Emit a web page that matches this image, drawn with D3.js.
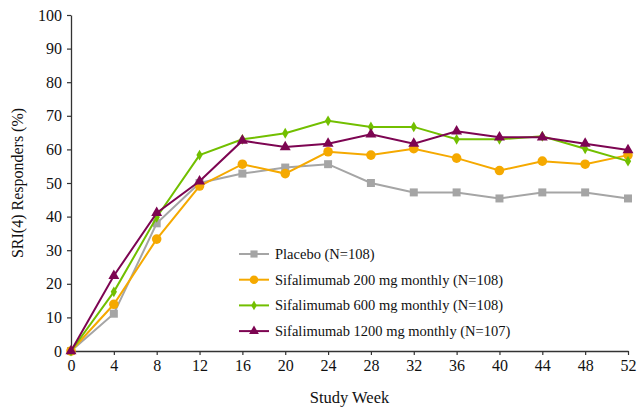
<!DOCTYPE html>
<html>
<head>
<meta charset="utf-8">
<script src="https://cdn.jsdelivr.net/npm/d3@7"></script>
<style>
  html, body { margin: 0; padding: 0; background: #fff; }
  svg text { font-family: 'Liberation Serif', 'Times New Roman', Tinos, 'DejaVu Serif', serif; }
</style>
</head>
<body>
<svg id="chart" width="637" height="410"></svg>
<script>
// ---------- data ----------
const weeks = [0, 4, 8, 12, 16, 20, 24, 28, 32, 36, 40, 44, 48, 52];
const yTicks = [0, 10, 20, 30, 40, 50, 60, 70, 80, 90, 100];

const placebo  = [0, 11.1, 38.0, 50.0, 52.8, 54.6, 55.6, 50.0, 47.2, 47.2, 45.4, 47.2, 47.2, 45.4];
const dose200  = [0, 13.9, 33.3, 49.1, 55.6, 52.8, 59.3, 58.3, 60.2, 57.4, 53.7, 56.5, 55.6, 58.3];
const dose600  = [0, 17.6, 39.8, 58.3, 63.0, 64.8, 68.5, 66.7, 66.7, 63.0, 63.0, 63.9, 60.2, 56.5];
const dose1200 = [0, 22.4, 41.1, 50.5, 62.6, 60.7, 61.7, 64.5, 61.7, 65.4, 63.6, 63.6, 61.7, 59.8];

const seriesNames = [
  'Placebo (N=108)',
  'Sifalimumab 200 mg monthly (N=108)',
  'Sifalimumab 600 mg monthly (N=108)',
  'Sifalimumab 1200 mg monthly (N=107)'
];

// ---------- styling ----------
const series = [
  { name: seriesNames[0], values: placebo,  color: '#a5a5a5', symbol: d3.symbolSquare,   size: 64 },
  { name: seriesNames[1], values: dose200,  color: '#f5a900', symbol: d3.symbolCircle,   size: 72 },
  { name: seriesNames[2], values: dose600,  color: '#72bf00', symbol: d3.symbolDiamond,  size: 34 },
  { name: seriesNames[3], values: dose1200, color: '#7d0552', symbol: d3.symbolTriangle, size: 52 }
];

const svg = d3.select('#chart');
const m = { l: 71, r: 9, t: 15, b: 59 };
const W = 637, H = 410;

const x = d3.scaleLinear().domain([0, 52]).range([m.l, W - m.r]);
const y = d3.scaleLinear().domain([0, 100]).range([H - m.b, m.t]);

// axes
const xAxis = svg.append('g').attr('transform', `translate(0,${y(0)})`)
  .call(d3.axisBottom(x).tickValues(weeks).tickSize(4).tickPadding(5).tickSizeOuter(0));
const yAxis = svg.append('g').attr('transform', `translate(${m.l},0)`)
  .call(d3.axisLeft(y).tickValues(yTicks).tickSize(4).tickPadding(5).tickSizeOuter(0));

[xAxis, yAxis].forEach(a => {
  a.attr('font-family', null);
  a.select('.domain').attr('stroke', '#333').attr('stroke-width', 1.3);
  a.selectAll('.tick line').attr('stroke', '#333').attr('stroke-width', 1.2);
  a.selectAll('.tick text').attr('font-size', 16).attr('fill', '#111');
});

// axis titles
svg.append('text').attr('x', x(26)).attr('y', 403).attr('text-anchor', 'middle')
  .attr('font-size', 16.5).attr('fill', '#111').text('Study Week');
svg.append('text').attr('transform', `translate(23,${y(50)}) rotate(-90)`).attr('text-anchor', 'middle')
  .attr('font-size', 16).attr('fill', '#111').text('SRI(4) Responders (%)');

// lines + markers
const line = d3.line().x((d, i) => x(weeks[i])).y(d => y(d));
series.forEach(s => {
  svg.append('path').datum(s.values).attr('d', line)
    .attr('fill', 'none').attr('stroke', s.color).attr('stroke-width', 2);
  svg.append('g').selectAll('path').data(s.values).join('path')
    .attr('transform', (d, i) => `translate(${x(weeks[i])},${y(d)})`)
    .attr('d', d3.symbol().type(s.symbol).size(s.size))
    .attr('fill', s.color);
});

// legend
const lg = svg.append('g').attr('transform', 'translate(239,254)');
series.forEach((s, i) => {
  const row = lg.append('g').attr('transform', `translate(0,${i * 25.7})`);
  row.append('line').attr('x1', 0).attr('x2', 30).attr('stroke', s.color).attr('stroke-width', 2);
  row.append('path').attr('transform', 'translate(15,0)')
    .attr('d', d3.symbol().type(s.symbol).size(s.size * 0.8)).attr('fill', s.color);
  row.append('text').attr('x', 36).attr('y', 5).attr('font-size', 14.5).attr('fill', '#111').text(s.name);
});
</script>
</body>
</html>
